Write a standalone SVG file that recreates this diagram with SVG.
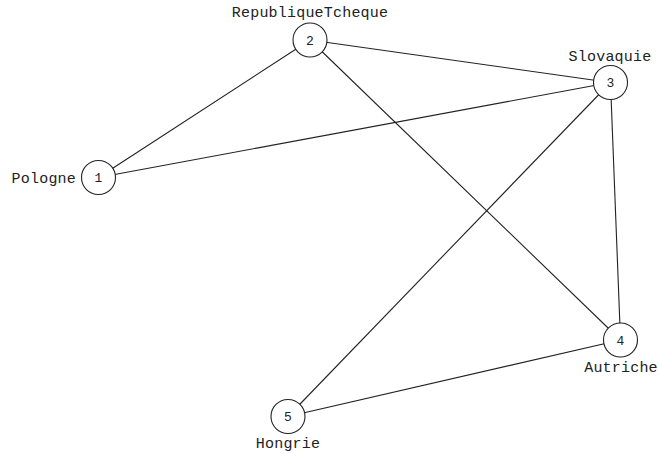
<svg xmlns="http://www.w3.org/2000/svg" width="658" height="454" viewBox="0 0 658 454">
<style>
.edge{stroke:#222;stroke-width:1.1;fill:none}
.node circle{fill:#fff;stroke:#222;stroke-width:1.1}
.num{font-family:"Liberation Mono",monospace;font-size:13px;fill:#222;text-anchor:middle}
.lbl{font-family:"Liberation Mono",monospace;font-size:15px;fill:#222;letter-spacing:0.2px}
</style>
<rect width="658" height="454" fill="#fff"/>
<g id="connectors">
<line class="edge" x1="98.5" y1="177.5" x2="310" y2="40"/>
<line class="edge" x1="98.5" y1="177.5" x2="610.5" y2="82.5"/>
<line class="edge" x1="310" y1="40" x2="610.5" y2="82.5"/>
<line class="edge" x1="310" y1="40" x2="620.5" y2="340"/>
<line class="edge" x1="610.5" y1="82.5" x2="620.5" y2="340"/>
<line class="edge" x1="610.5" y1="82.5" x2="288" y2="416.5"/>
<line class="edge" x1="620.5" y1="340" x2="288" y2="416.5"/>
</g>
<g id="node1" class="node">
<circle cx="98.5" cy="177.5" r="17"/>
<text class="num" x="98.5" y="182">1</text>
<text class="lbl" x="76" y="182.5" text-anchor="end">Pologne</text>
</g>
<g id="node2" class="node">
<circle cx="310" cy="40" r="17"/>
<text class="num" x="310" y="44.5">2</text>
<text class="lbl" x="310" y="17" text-anchor="middle">RepubliqueTcheque</text>
</g>
<g id="node3" class="node">
<circle cx="610.5" cy="82.5" r="17"/>
<text class="num" x="610.5" y="87">3</text>
<text class="lbl" x="610" y="60.5" text-anchor="middle">Slovaquie</text>
</g>
<g id="node4" class="node">
<circle cx="620.5" cy="340" r="17"/>
<text class="num" x="620.5" y="344.5">4</text>
<text class="lbl" x="621" y="371.5" text-anchor="middle">Autriche</text>
</g>
<g id="node5" class="node">
<circle cx="288" cy="416.5" r="17"/>
<text class="num" x="288" y="421">5</text>
<text class="lbl" x="288" y="448" text-anchor="middle">Hongrie</text>
</g>
</svg>
